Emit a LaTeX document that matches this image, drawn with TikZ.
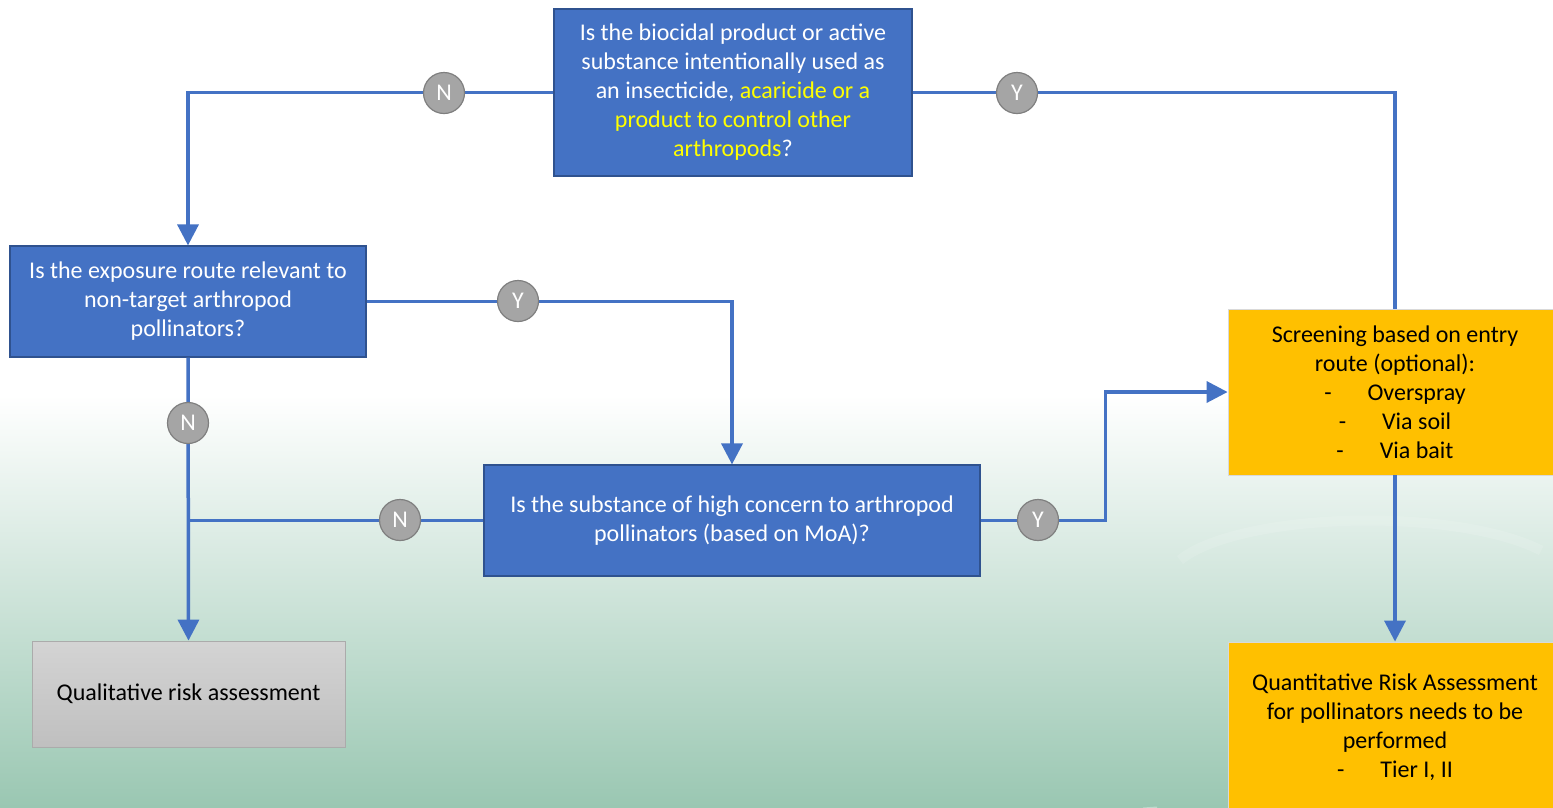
\documentclass[tikz,border=0pt]{standalone}
\usepackage{fontspec}
\setmainfont{Carlito}
\usetikzlibrary{arrows.meta}
\definecolor{boxblue}{HTML}{4472C4}
\definecolor{boxedge}{HTML}{2F528F}
\definecolor{amber}{HTML}{FFC000}
\definecolor{amberedge}{HTML}{D9D9D9}
\definecolor{flowblue}{HTML}{4472C4}
\definecolor{badgegray}{HTML}{A5A5A5}
\definecolor{badgeedge}{HTML}{7F7F7F}
\definecolor{seagreen}{HTML}{9AC7B2}
\definecolor{mistgreen}{HTML}{E4F0EA}
\definecolor{hiyellow}{HTML}{FFFF00}
\newcommand{\dashitem}[1]{-\hspace{36pt}#1}
\begin{document}
\begin{tikzpicture}[x=1pt,y=-1pt,
  txt/.style={font=\fontsize{24}{29}\selectfont, align=center},
  bluebox/.style={txt, rectangle, fill=boxblue, draw=boxedge, line width=1.2pt,
    text=white, inner sep=0pt},
  amberbox/.style={txt, rectangle, fill=amber, draw=amberedge, line width=0.8pt,
    text=black, inner sep=0pt},
  graybox/.style={txt, rectangle, top color=black!17, bottom color=black!25,
    draw=black!33, line width=0.8pt, text=black, inner sep=0pt},
  flow/.style={draw=flowblue, line width=3.5pt},
  arr/.style={flow, -{Triangle[length=21pt,width=21pt]}},
  badge/.style={circle, fill=badgegray, draw=badgeedge, line width=1.2pt,
    minimum size=41pt, inner sep=0pt, text=white,
    font=\fontsize{24}{26}\selectfont}]

\clip (0,0) rectangle (1553,807);

% background: white fading into pale green towards the bottom
\fill[white] (0,0) rectangle (1553,400);
\shade[top color=white, middle color=mistgreen, bottom color=seagreen]
  (0,395) rectangle (1553,807);
\draw[white, opacity=0.35, line width=14pt] (1150,807) arc[start angle=180, end angle=60, x radius=260, y radius=90];
\draw[white, opacity=0.12, line width=10pt] (1180,560) arc[start angle=200, end angle=330, x radius=200, y radius=60];

% decision boxes
\node[bluebox, minimum width=358pt, minimum height=167pt] (q1) at (733,92.5)
  {Is the biocidal product or active\\substance intentionally used as\\an insecticide, \textcolor{hiyellow}{acaricide or a}\\\textcolor{hiyellow}{product to control other}\\\textcolor{hiyellow}{arthropods}?};
\node[bluebox, minimum width=356pt, minimum height=111pt] (q2) at (188,301.5)
  {Is the exposure route relevant to\\non-target arthropod\\pollinators?};
\node[bluebox, minimum width=496pt, minimum height=111pt] (q3) at (732,520.5)
  {Is the substance of high concern to arthropod\\pollinators (based on MoA)?};

% outcome boxes
\node[graybox, minimum width=313pt, minimum height=106pt] (qual) at (188.5,694)
  {Qualitative risk assessment};
\node[amberbox, minimum width=334pt, minimum height=166pt] (scr) at (1395,392)
  {Screening based on entry\\route (optional):\\\dashitem{Overspray}\\\dashitem{Via soil}\\\dashitem{Via bait}};
\node[amberbox, minimum width=334pt, minimum height=170pt] (quant) at (1395,727)
  {Quantitative Risk Assessment\\for pollinators needs to be\\performed\\\dashitem{Tier I, II}};

% connectors
\draw[arr] (q1.west) -| (q2.north);
\draw[flow] (q1.east) -| (scr.north);
\draw[arr] (q2.east) -| (q3.north);
\draw[arr] (q2.south) -- (qual.north);
\draw[flow] (q3.west) -- (q3.west -| q2.south);
\draw[arr] (q3.east) -- ++(125,0) |- (scr.west);
\draw[arr] (scr.south) -- (quant.north);

% yes / no badges
\node[badge] (n1) at (444,93) {N};
\node[badge] (y1) at (1017,93) {Y};
\node[badge] (y2) at (518,301) {Y};
\node[badge] (n2) at (188,423) {N};
\node[badge] (n3) at (400,520) {N};
\node[badge] (y3) at (1038,520) {Y};
\end{tikzpicture}
\end{document}
